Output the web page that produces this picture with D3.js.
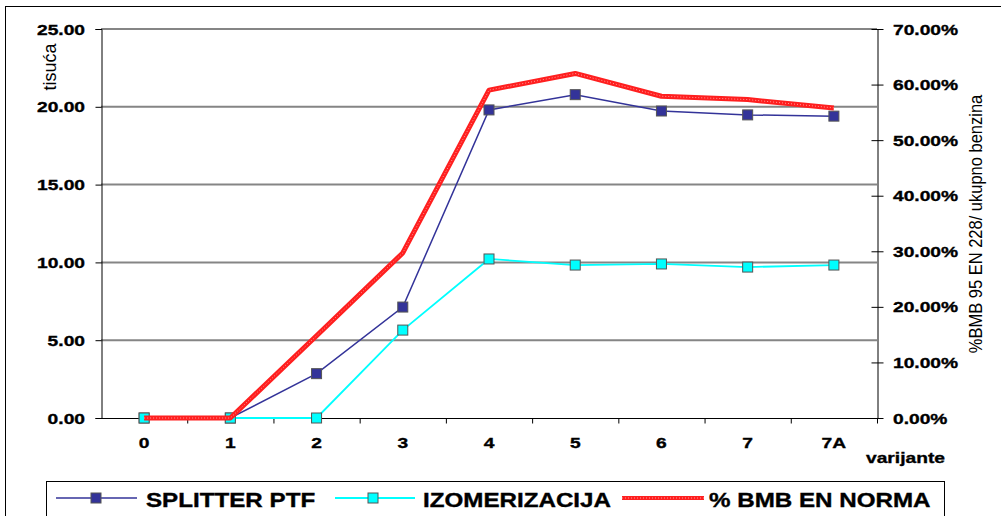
<!DOCTYPE html>
<html>
<head>
<meta charset="utf-8">
<script src="https://cdn.jsdelivr.net/npm/d3@7"></script>
<style>
  html, body { margin: 0; padding: 0; background: #fff; }
  svg { display: block; font-family: "Liberation Sans", Arial, sans-serif; }
</style>
</head>
<body>
<svg id="chart" width="1001" height="516"></svg>
<script>
// Variants on the x axis
const categories = ["0", "1", "2", "3", "4", "5", "6", "7", "7A"];
// Left axis (tisuća)
const splitterPtf = [0, 0, 2.85, 7.13, 19.8, 20.78, 19.73, 19.48, 19.4];
const izomerizacija = [0, 0, 0, 5.65, 10.22, 9.83, 9.9, 9.7, 9.83];
// Right axis (share of BMB in total gasoline)
const bmbEnNorma = [0, 0, 0.148, 0.297, 0.59, 0.62, 0.579, 0.573, 0.558];
const leftTicks = [0, 5, 10, 15, 20, 25];
const rightTicks = [0, 0.1, 0.2, 0.3, 0.4, 0.5, 0.6, 0.7];
const seriesNames = ["SPLITTER PTF", "IZOMERIZACIJA", "% BMB EN NORMA"];

const SX = 1.24; // horizontal widening of text glyphs
const svg = d3.select("#chart");

const plot = { left: 101, right: 877, top: 29, bottom: 418 };

const x = d3.scaleBand().domain(categories).range([plot.left, plot.right]).padding(0);
const cx = c => x(c) + x.bandwidth() / 2;
const yL = d3.scaleLinear().domain([0, 25]).range([plot.bottom, plot.top]);
const yR = d3.scaleLinear().domain([0, 0.7]).range([plot.bottom, plot.top]);

function wideText(g, str, tx, ty, opts) {
  return g.append("text")
    .attr("transform", `translate(${tx},${ty}) scale(${opts.sx || SX},1)`)
    .attr("text-anchor", opts.anchor || "start")
    .attr("font-size", opts.size)
    .attr("font-weight", "bold")
    .attr("fill", "#000")
    .attr("stroke", "#000")
    .attr("stroke-width", 0.35)
    .text(str);
}

// Outer frame
svg.append("rect").attr("x", 5.5).attr("y", 6.5).attr("width", 1010).attr("height", 530)
  .attr("fill", "none").attr("stroke", "#000").attr("stroke-width", 1);

// Horizontal gridlines
svg.append("g").selectAll("line").data(leftTicks.filter(v => v > 0)).join("line")
  .attr("x1", plot.left).attr("x2", plot.right)
  .attr("y1", d => yL(d)).attr("y2", d => yL(d))
  .attr("stroke", "#858585").attr("stroke-width", 2);

// Left axis
const gL = svg.append("g").attr("transform", `translate(${plot.left + 0.5},0)`)
  .call(d3.axisLeft(yL).tickValues(leftTicks).tickSize(6).tickFormat(""));
gL.select(".domain").attr("stroke", "#000");
gL.selectAll(".tick line").attr("stroke", "#000");
leftTicks.forEach(v => wideText(svg, d3.format(".2f")(v), 85, yL(v) + 5.5, { anchor: "end", size: 15.5 }));

// Right axis
const gR = svg.append("g").attr("transform", `translate(${plot.right + 0.5},0)`)
  .call(d3.axisRight(yR).tickValues(rightTicks).tickSizeInner(6).tickSizeOuter(0).tickFormat(""));
gR.select(".domain").attr("stroke", "#000");
gR.selectAll(".tick line").attr("stroke", "#000").attr("x1", -6);
rightTicks.forEach(v => wideText(svg, d3.format(".2%")(v), 893, yR(v) + 5.5, { anchor: "start", size: 15.5 }));

// Bottom axis with ticks between categories
const gB = svg.append("g").attr("transform", `translate(0,${plot.bottom + 0.5})`);
gB.append("line").attr("x1", plot.left).attr("x2", plot.right).attr("stroke", "#000");
gB.selectAll("line.tk").data(categories).join("line").attr("class", "tk")
  .attr("x1", d => x(d) + x.bandwidth() + 0.5).attr("x2", d => x(d) + x.bandwidth() + 0.5)
  .attr("y1", 0).attr("y2", 5).attr("stroke", "#000");
categories.forEach(c => wideText(svg, c, cx(c), 448, { anchor: "middle", size: 15.5 }));
wideText(svg, "varijante", 866, 463, { size: 15.5 });

// Axis titles
svg.append("text").attr("transform", "translate(56,67) rotate(-90)")
  .attr("text-anchor", "middle").attr("font-size", 18).text("tisuća");
svg.append("text").attr("transform", "translate(982,224) scale(1.15,1) rotate(-90)")
  .attr("text-anchor", "middle").attr("font-size", 16.5).text("%BMB 95 EN 228/ ukupno benzina");

// Series lines
const lineL = d3.line().x((d, i) => cx(categories[i])).y(d => yL(d));
const lineR = d3.line().x((d, i) => cx(categories[i])).y(d => yR(d));

svg.append("path").datum(splitterPtf).attr("d", lineL)
  .attr("fill", "none").attr("stroke", "#333399").attr("stroke-width", 1.5);
svg.append("g").selectAll("rect").data(splitterPtf).join("rect")
  .attr("x", (d, i) => cx(categories[i]) - 5).attr("y", d => yL(d) - 5)
  .attr("width", 10).attr("height", 10)
  .attr("fill", "#333399").attr("stroke", "#555").attr("stroke-width", 1);

svg.append("path").datum(izomerizacija).attr("d", lineL)
  .attr("fill", "none").attr("stroke", "#00ffff").attr("stroke-width", 1.8);
svg.append("g").selectAll("rect").data(izomerizacija).join("rect")
  .attr("x", (d, i) => cx(categories[i]) - 5).attr("y", d => yL(d) - 5)
  .attr("width", 10).attr("height", 10)
  .attr("fill", "#00ffff").attr("stroke", "#555").attr("stroke-width", 1);

// Thick red line with a fine lighter stipple
function redLine(sel, w) {
  return sel.attr("stroke", "#ff1f1f").attr("stroke-width", w).attr("fill", "none")
    .attr("stroke-linejoin", "round");
}
redLine(svg.append("path").datum(bmbEnNorma).attr("d", lineR), 5);
svg.append("path").datum(bmbEnNorma).attr("d", lineR)
  .attr("fill", "none").attr("stroke", "#ff9a9a").attr("stroke-width", 1)
  .attr("stroke-dasharray", "1,2");

// Legend
const leg = svg.append("g");
leg.append("rect").attr("x", 46.5).attr("y", 481.5).attr("width", 898).attr("height", 60)
  .attr("fill", "#fff").attr("stroke", "#000");
const ly = 498;
leg.append("line").attr("x1", 56).attr("x2", 137).attr("y1", ly).attr("y2", ly)
  .attr("stroke", "#333399").attr("stroke-width", 1.5);
leg.append("rect").attr("x", 91).attr("y", ly - 5).attr("width", 10).attr("height", 10)
  .attr("fill", "#333399").attr("stroke", "#555");
wideText(leg, seriesNames[0], 146, 507, { size: 19.5 });

leg.append("line").attr("x1", 335).attr("x2", 415).attr("y1", ly).attr("y2", ly)
  .attr("stroke", "#00ffff").attr("stroke-width", 1.8);
leg.append("rect").attr("x", 368).attr("y", ly - 5).attr("width", 10).attr("height", 10)
  .attr("fill", "#00ffff").attr("stroke", "#555");
wideText(leg, seriesNames[1], 423, 507, { size: 19.5 });

redLine(leg.append("line").attr("x1", 622).attr("x2", 704).attr("y1", ly).attr("y2", ly), 4);
leg.append("line").attr("x1", 622).attr("x2", 704).attr("y1", ly).attr("y2", ly)
  .attr("stroke", "#ff9a9a").attr("stroke-width", 1).attr("stroke-dasharray", "1,2");
wideText(leg, seriesNames[2], 709, 507, { size: 19.5 });
</script>
</body>
</html>
